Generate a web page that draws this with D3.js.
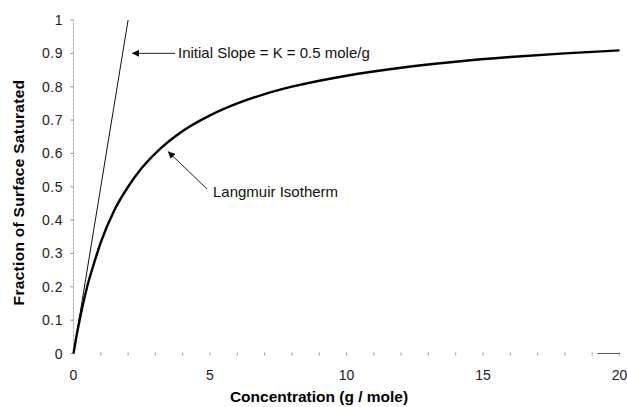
<!DOCTYPE html>
<html>
<head>
<meta charset="utf-8">
<script src="https://cdn.jsdelivr.net/npm/d3@7"></script>
<style>
  body { margin: 0; background: #fff; }
  text { font-family: "Liberation Sans", Arial, sans-serif; }
</style>
</head>
<body>
<script>
// concentration (g / mole) and fraction saturated
var conc     = [0, 0.1, 0.25, 0.5, 0.75, 1, 1.5, 2, 2.5, 3, 4, 5, 6, 7, 8, 10, 12, 14, 16, 18, 20];
var fraction = [0, 0.048, 0.11, 0.2, 0.27, 0.333, 0.43, 0.5, 0.556, 0.6, 0.667, 0.714, 0.75, 0.778, 0.8, 0.833, 0.857, 0.875, 0.889, 0.9, 0.909];
// initial slope line
var slopeX = [0, 2];
var slopeY = [0, 1];
var xTicks = [0, 5, 10, 15, 20];
var yTicks = [0, 0.1, 0.2, 0.3, 0.4, 0.5, 0.6, 0.7, 0.8, 0.9, 1];

var w = 627, h = 407;
var svg = d3.select("body").append("svg").attr("width", w).attr("height", h);

var x = d3.scaleLinear().domain([0, 20]).range([73.5, 619.5]);
var y = d3.scaleLinear().domain([0, 1]).range([353.5, 20]);

// y axis line (faint)
svg.append("line")
  .attr("x1", x(0)).attr("x2", x(0))
  .attr("y1", y(0)).attr("y2", y(1))
  .attr("stroke", "#aaa").attr("stroke-width", 1)
  .attr("stroke-dasharray", "3,1");

// y ticks + labels
svg.selectAll(".ytick").data(yTicks).enter().append("line")
  .attr("x1", x(0) - 3).attr("x2", x(0))
  .attr("y1", function(d){ return y(d); }).attr("y2", function(d){ return y(d); })
  .attr("stroke", "#888");
svg.selectAll(".ylab").data(yTicks).enter().append("text")
  .attr("x", 63).attr("y", function(d){ return y(d) + 5; })
  .attr("text-anchor", "end").attr("font-size", 14).attr("fill", "#222")
  .attr("letter-spacing", 0.5)
  .text(function(d){ return d; });

// x minor ticks
svg.selectAll(".xminor").data(d3.range(1, 21)).enter().append("line")
  .attr("x1", function(d){ return x(d); }).attr("x2", function(d){ return x(d); })
  .attr("y1", y(0) - 1).attr("y2", y(0) + 2)
  .attr("stroke", "#999");
svg.append("line")
  .attr("x1", x(19.2)).attr("x2", x(20))
  .attr("y1", y(0)).attr("y2", y(0))
  .attr("stroke", "#555");
svg.selectAll(".xlab").data(xTicks).enter().append("text")
  .attr("x", function(d){ return x(d); }).attr("y", 380)
  .attr("text-anchor", "middle").attr("font-size", 14).attr("fill", "#222")
  .text(function(d){ return d; });

// axis titles
svg.append("text")
  .attr("x", 319).attr("y", 402)
  .attr("text-anchor", "middle").attr("font-size", 15.5).attr("font-weight", "bold")
  .text("Concentration (g / mole)");
svg.append("text")
  .attr("transform", "translate(24,192.5) rotate(-90)")
  .attr("text-anchor", "middle").attr("font-size", 15.5).attr("font-weight", "bold")
  .attr("letter-spacing", 0.3)
  .text("Fraction of Surface Saturated");

// slope line
svg.append("path")
  .datum(d3.zip(slopeX, slopeY))
  .attr("d", d3.line().x(function(d){ return x(d[0]); }).y(function(d){ return y(d[1]); }))
  .attr("fill", "none").attr("stroke", "#111").attr("stroke-width", 1);

// isotherm curve
svg.append("path")
  .datum(d3.zip(conc, fraction))
  .attr("d", d3.line().curve(d3.curveMonotoneX)
    .x(function(d){ return x(d[0]); }).y(function(d){ return y(d[1]); }))
  .attr("fill", "none").attr("stroke", "#000").attr("stroke-width", 2.4);

// arrows
var defs = svg.append("defs");
defs.append("marker").attr("id", "ah")
  .attr("viewBox", "0 0 10 10").attr("refX", 10).attr("refY", 5)
  .attr("markerWidth", 7).attr("markerHeight", 7).attr("orient", "auto")
  .attr("markerUnits", "userSpaceOnUse")
  .append("path").attr("d", "M0,0 L10,5 L0,10 z").attr("fill", "#000");

svg.append("line")
  .attr("x1", 175).attr("y1", y(0.9)).attr("x2", 132).attr("y2", y(0.9))
  .attr("stroke", "#222").attr("stroke-width", 1).attr("marker-end", "url(#ah)");
svg.append("text")
  .attr("x", 178).attr("y", y(0.9) + 5)
  .attr("font-size", 15).attr("fill", "#111")
  .text("Initial Slope = K = 0.5 mole/g");

svg.append("line")
  .attr("x1", 207).attr("y1", 189).attr("x2", 168).attr("y2", 151.5)
  .attr("stroke", "#222").attr("stroke-width", 1).attr("marker-end", "url(#ah)");
svg.append("text")
  .attr("x", 213).attr("y", 197)
  .attr("font-size", 15).attr("fill", "#111")
  .text("Langmuir Isotherm");
</script>
</body>
</html>
